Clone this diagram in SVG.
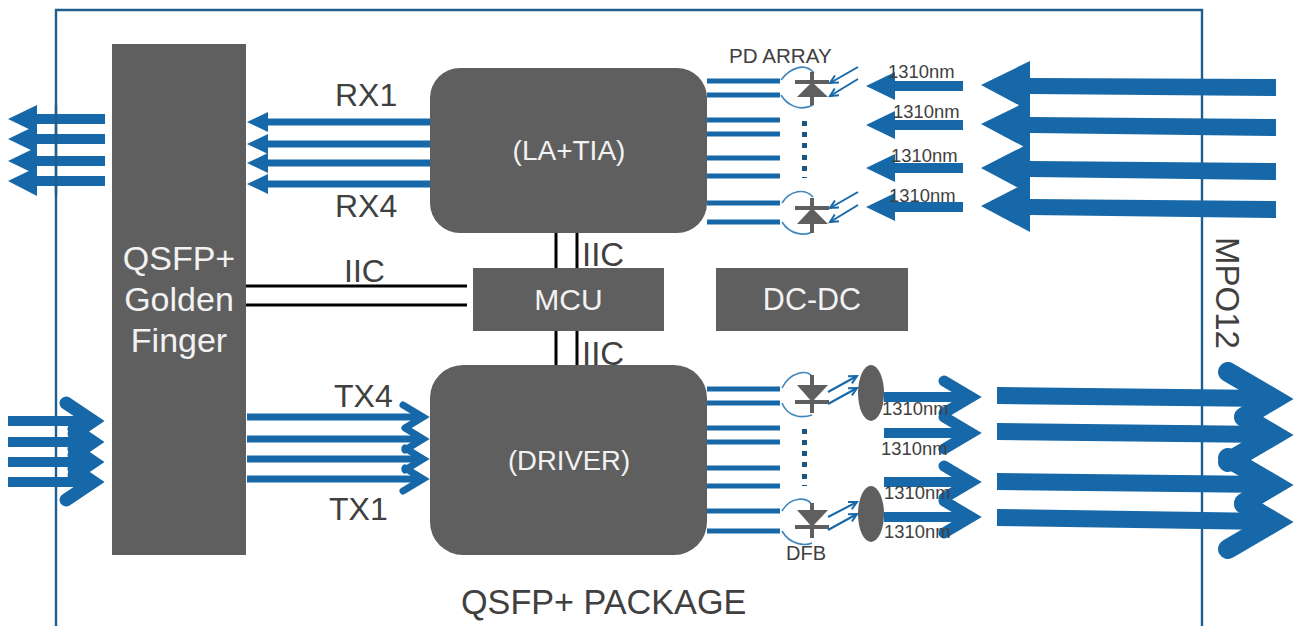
<svg xmlns="http://www.w3.org/2000/svg" width="1296" height="626" viewBox="0 0 1296 626">
<style>
text{font-family:"Liberation Sans",Arial,sans-serif;fill:#404040}
.w{fill:#f2f2f2;text-anchor:middle}
.box{fill:#5f5f5f}
.b{fill:#1668a8;stroke:none}
.s5{stroke:#1668a8;stroke-width:5;fill:none}
.s7{stroke:#1668a8;stroke-width:7;fill:none}
.s10{stroke:#1668a8;stroke-width:10;fill:none}
.a7{stroke:#1668a8;stroke-width:7;fill:none;stroke-linecap:round;stroke-miterlimit:10}
.a11{stroke:#1668a8;stroke-width:11;fill:none;stroke-linecap:round;stroke-miterlimit:10}
.a13{stroke:#1668a8;stroke-width:13;fill:none;stroke-linecap:round;stroke-miterlimit:10}
.a20{stroke:#1668a8;stroke-width:20;fill:none;stroke-linecap:round;stroke-miterlimit:10}
.k{stroke:#000;stroke-width:3;fill:none}
.c{stroke:#3f86bd;stroke-width:1.6;fill:none}
.e{stroke:#1668a8;stroke-width:2;fill:none;marker-end:url(#o)}
.g{fill:#5f5f5f;stroke:none}
.gl{stroke:#5f5f5f;stroke-width:4;fill:none}
.d{fill:#1a5680}
.t{font-size:18.4px}
.l{font-size:32px}
.f{font-size:34px}
</style>
<defs>
<marker id="o" markerUnits="userSpaceOnUse" markerWidth="12" markerHeight="12" refX="9" refY="5" orient="auto"><path d="M1 1L9 5L1 9" fill="none" stroke="#1668a8" stroke-width="2"/></marker>
</defs>
<path id="frame" d="M56 626V10H1202V626" fill="none" stroke="#1f5f8f" stroke-width="2.4"/>
<g id="connectors">
<path class="k" d="M246 286H467M246 305H467M556 233V268M577 233V268M556 331V365M577 331V365"/>
<path class="s10" d="M30 119H105M30 139H105M30 161H105M30 181H105"/>
<path class="b" d="M37 105L8 119L37 133ZM37 125L8 139L37 153ZM37 147L8 161L37 175ZM37 167L8 181L37 196Z"/>
<path d="M56 105V196" stroke="#1f5f8f" stroke-width="2.4"/>
<path class="s10" d="M8 421H92M8 442H92M8 462H92M8 482H92"/>
<path class="a13" d="M66 403L93 421L74 434M74 429L93 442L74 455M74 449L93 462L74 475M74 469L93 482L66 500"/>
<path class="s7" d="M262 122H430M262 144H430M262 163H430M262 184H430"/>
<path class="b" d="M268 112L247 122L268 132ZM268 134L247 144L268 154ZM268 153L247 163L268 173ZM268 174L247 184L268 194Z"/>
<path class="s7" d="M247 417H420M247 439H420M247 459H420M247 479H420"/>
<path class="a7" d="M403 405L423 417L405 428M405 428L423 439L405 450M405 448L423 459L405 470M405 468L423 479L403 491"/>
<path class="s5" d="M707 81H780M707 95H780M707 120H780M707 134H780M707 158H780M707 176H780M707 203H780M707 222H780"/>
<path class="s5" d="M707 389H780M707 403H780M707 428H780M707 442H780M707 468H780M707 486H780M707 511H780M707 531H780"/>
<path class="c" d="M781 80C790 68 805 62 814 73M781 95C787 105 800 112 813 105M782 203C790 190 805 188 813 197M782 222C790 235 805 236 812 232"/>
<path class="c" d="M782 388C790 372 808 368 813 378M782 403C788 418 803 418 812 415M782 511C790 497 808 495 813 507M782 531C790 545 805 546 812 543"/>
<path class="e" d="M858 67L830 83"/><path class="e" d="M858 79L830 96"/><path class="e" d="M858 192L830 208"/><path class="e" d="M858 205L830 222"/>
<path class="e" d="M828 392L857 376"/><path class="e" d="M828 404L857 388"/><path class="e" d="M828 517L857 502"/><path class="e" d="M828 530L857 514"/>
<rect class="d" x="802" y="121" width="5" height="5"/><rect class="d" x="802" y="132" width="5" height="5"/><rect class="d" x="802" y="143" width="5" height="5"/><rect class="d" x="802" y="155" width="5" height="5"/><rect class="d" x="802" y="166" width="5" height="5"/><rect class="d" x="802" y="177" width="5" height="1"/>
<rect class="d" x="802" y="429" width="5" height="5"/><rect class="d" x="802" y="440" width="5" height="5"/><rect class="d" x="802" y="451" width="5" height="5"/><rect class="d" x="802" y="462" width="5" height="5"/><rect class="d" x="802" y="474" width="5" height="5"/><rect class="d" x="802" y="485" width="5" height="1"/>
<path class="s10" d="M890 86H963M890 125H963M890 168H963M890 207H963"/>
<path class="b" d="M895 72L866 86L895 100ZM895 111L866 125L895 139ZM895 154L866 168L895 182ZM895 193L866 207L895 221Z"/>
<path class="b" d="M1030 78L1276 79V96L1030 94ZM1030 117L1276 119V136L1030 133ZM1030 161L1276 163V180L1030 177ZM1030 199L1276 201V218L1030 215Z"/>
<path class="b" d="M1030 61L981 85L1030 111ZM1030 100L981 124L1030 150ZM1030 143L981 168L1030 194ZM1030 181L981 206L1030 232Z"/>
<path class="s10" d="M884 397H965M884 433H965M884 482H965M884 517H965"/>
<path class="a11" d="M944 381L971 397L944 413M944 417L971 433L944 449M944 466L971 482L944 498M944 501L971 517L944 533"/>
<path class="b" d="M997 387L1270 390V407L997 404ZM997 423L1270 426V443L997 440ZM997 473L1270 476V493L997 490ZM997 509L1270 513V530L997 526Z"/>
<path class="a20" d="M1228 372L1274 399L1244 417M1244 417L1274 435L1228 462M1228 458L1274 485L1244 503M1244 504L1274 522L1228 549"/>
</g>
<g id="qsfp-finger"><rect class="box" x="112" y="44" width="134" height="511"/><text class="w f" x="179" y="270">QSFP+</text><text class="w f" x="179" y="311">Golden</text><text class="w f" x="179" y="352">Finger</text></g>
<g id="la-tia"><rect class="box" x="430" y="68" width="277" height="165" rx="30"/><text class="w" x="569" y="160" font-size="28">(LA+TIA)</text></g>
<g id="mcu"><rect class="box" x="473" y="268" width="191" height="63"/><text class="w" x="568.500" y="310" font-size="30">MCU</text></g>
<g id="dc-dc"><rect class="box" x="716" y="268" width="192" height="63"/><text class="w" x="812" y="310" font-size="30.500">DC-DC</text></g>
<g id="driver"><rect class="box" x="430" y="365" width="277" height="190" rx="33"/><text class="w" x="569" y="470" font-size="27.500">(DRIVER)</text></g>
<g id="pd1"><path class="g" d="M812 82L828 97H797Z"/><path class="gl" d="M795 82H829M812 72V105"/></g>
<g id="pd4"><path class="g" d="M812 208L828 224H797Z"/><path class="gl" d="M795 208H829M812 198V233"/></g>
<g id="dfb1"><path class="g" d="M797 385H828L812 402Z"/><path class="gl" d="M795 402H829M812 375V413"/></g>
<g id="dfb4"><path class="g" d="M797 510H828L812 527Z"/><path class="gl" d="M795 527H829M812 503V538"/></g>
<g id="lens1"><ellipse class="g" cx="871" cy="393" rx="13" ry="28"/></g>
<g id="lens2"><ellipse class="g" cx="871" cy="514" rx="13" ry="28"/></g>
<g id="labels">
<text class="l" x="335" y="106">RX1</text>
<text class="l" x="335" y="217">RX4</text>
<text class="l" x="344" y="282">IIC</text>
<text x="582" y="266" font-size="33">IIC</text>
<text x="582" y="365" font-size="33">IIC</text>
<text class="l" x="334" y="407">TX4</text>
<text class="l" x="329" y="520">TX1</text>
<text x="461" y="614" font-size="34.200">QSFP+ PACKAGE</text>
<text x="0" y="0" font-size="33" transform="translate(1216 237) rotate(90)">MPO12</text>
<text x="729" y="63" font-size="20.600">PD ARRAY</text>
<text x="786" y="560" font-size="20">DFB</text>
<text class="t" x="888" y="78">1310nm</text>
<text class="t" x="893" y="118">1310nm</text>
<text class="t" x="891" y="162">1310nm</text>
<text class="t" x="889" y="202">1310nm</text>
<text class="t" x="882" y="415">1310nm</text>
<text class="t" x="881" y="455">1310nm</text>
<text class="t" x="884" y="499">1310nm</text>
<text class="t" x="884" y="538">1310nm</text>
</g>
</svg>
